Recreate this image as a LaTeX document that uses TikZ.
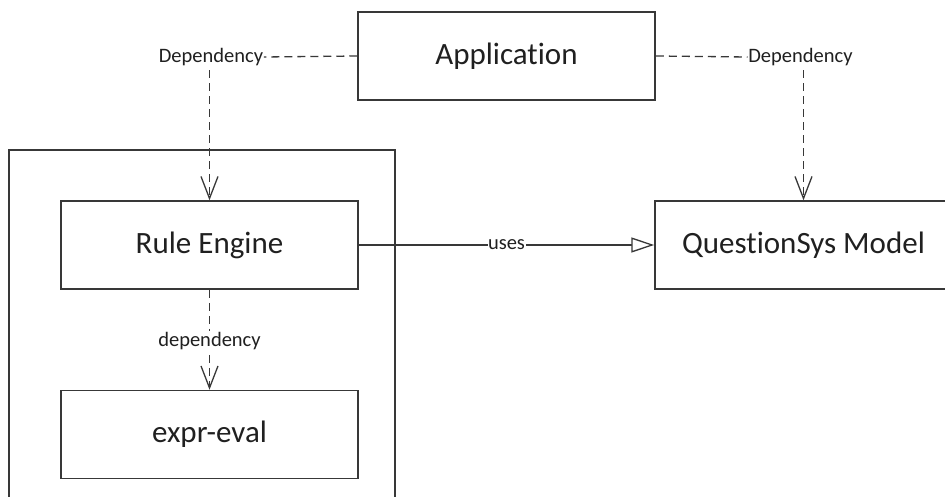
\documentclass[tikz,border=0pt]{standalone}
\usepackage{fontspec}
\setmainfont{Carlito}[Ligatures={NoCommon}]
\usetikzlibrary{arrows.meta}
\definecolor{ln}{HTML}{383838}
\definecolor{tx}{HTML}{202020}
\begin{document}
\begin{tikzpicture}[x=1pt,y=-1pt,
  box/.style={draw=ln, line width=1.5pt, minimum width=297pt, minimum height=88pt, inner sep=0pt,
    font=\fontsize{31}{36}\selectfont, text=tx},
  lbl/.style={font=\fontsize{20.5}{24}\selectfont, text=tx, fill=white, inner sep=1.5pt},
  dashline/.style={draw=ln, line width=1.3pt, dash pattern=on 8pt off 5pt},
  dep/.style={dashline, -{Straight Barb[length=22pt,width=17pt,line width=1.3pt]}},
  usesline/.style={draw=ln, line width=1.3pt, -{Triangle[open,length=23pt,width=15pt,line width=1.3pt,fill=white]}}]
\useasboundingbox (0,0) rectangle (945,497);
\clip (0,0) rectangle (945,497);
% container
\draw[ln, line width=1.5pt] (9,520) -- (9,150) -- (395,150) -- (395,520);
% boxes
\node[box, minimum height=88pt] (app) at (506.5,56) {Application};
\node[box] (rule) at (209.5,245) {Rule Engine};
\node[box] (expr) at (209.5,434.5) {expr-eval};
\node[box] (qs) at (803.5,245) {QuestionSys Model};
% labels
\node[lbl, inner sep=0.5pt] (dl) at (211,57) {Dependency};
\node[lbl, inner sep=0.5pt] (dr) at (800.5,57) {Dependency};
% connectors
\draw[dashline] (app.west) -- (dl.east);
\draw[dashline] (app.east) -- (dr.west);
\draw[dep] ([yshift=-4pt]dl.south -| rule.north) -- (rule.north);
\draw[dep] ([yshift=-4pt]dr.south -| qs.north) -- (qs.north);
\draw[usesline] (rule.east) -- node[lbl, inner sep=0.5pt] {uses} (qs.west);
\draw[dep] (rule.south) -- node[lbl, yshift=-1.5pt] {dependency} (expr.north);
\end{tikzpicture}
\end{document}
